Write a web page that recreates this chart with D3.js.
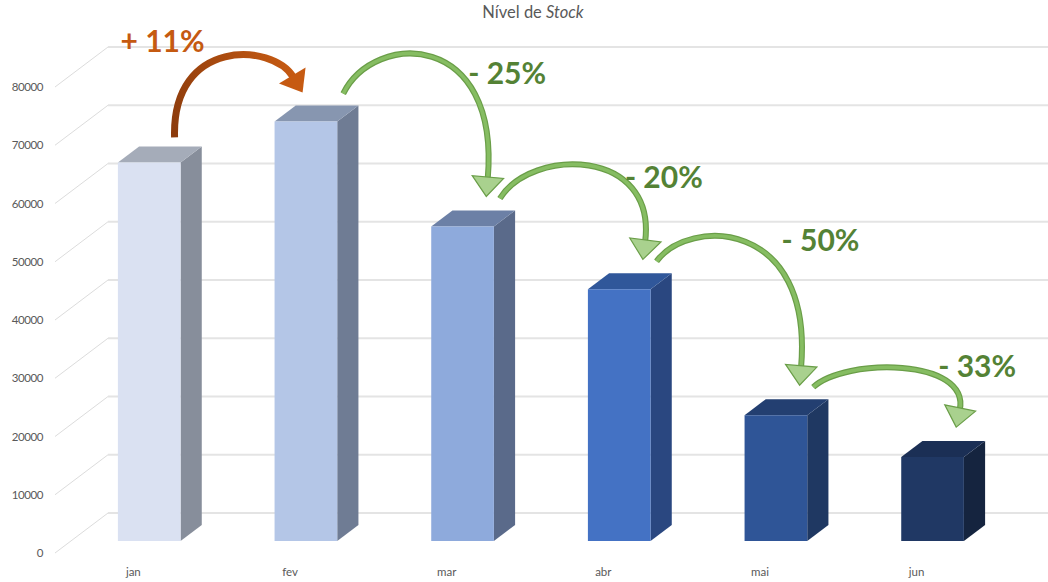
<!DOCTYPE html>
<html><head><meta charset="utf-8">
<script src="https://cdn.jsdelivr.net/npm/d3@7"></script>
<style>body{margin:0;background:#fff} svg{display:block}</style>
</head><body>
<script>
// ---- data ----
const months = ["jan", "fev", "mar", "abr", "mai", "jun"];
const stock = [65000, 72000, 54000, 43200, 21600, 14400];
const yTicks = [0, 10000, 20000, 30000, 40000, 50000, 60000, 70000, 80000];
const frontColors = ["#dae1f2", "#b4c6e7", "#8eaadc", "#4472c4", "#2f5597", "#203864"];
const topColors   = ["#a5acb9", "#8796b0", "#6c80a6", "#30579a", "#233f71", "#1b2f55"];
const sideColors  = ["#878e9b", "#6f7c94", "#5a6a8a", "#2a4780", "#1f3862", "#15243f"];

// ---- layout ----
const W = 1048, H = 582;
const DX = 53, DY = -40;           // depth vector (front -> back wall)
const D0 = 0.3, D1 = 0.7;          // bar depth range
const svg = d3.select("body").append("svg").attr("width", W).attr("height", H)
  .style("font-family", "Lato, 'Open Sans', sans-serif");

const x = d3.scaleBand().domain(months).range([55, 995]);
const y = d3.scaleLinear().domain([0, 80000]).range([553, 87]);
const P = (xf, v, d) => [xf + d * DX, y(v) + d * DY];

// title
const title = svg.append("text").attr("x", 533).attr("y", 18).attr("text-anchor", "middle")
  .attr("fill", "#595959").style("font-size", "16.5px");
title.append("tspan").text("Nível de ");
title.append("tspan").style("font-style", "italic").text("Stock");

// gridlines
const x0 = x.range()[0];
const grid = svg.append("g");
yTicks.forEach(t => {
  const a = P(x0, t, 0), b = P(x0, t, 1);
  grid.append("line").attr("x1", a[0]).attr("y1", a[1]).attr("x2", b[0]).attr("y2", b[1])
    .attr("stroke", "#dcdcdc").attr("stroke-width", 1);
  grid.append("line").attr("x1", b[0]).attr("y1", b[1]).attr("x2", W).attr("y2", b[1])
    .attr("stroke", "#e4e4e4").attr("stroke-width", 2);
});

// y-axis labels
svg.append("g").selectAll("text").data(yTicks).join("text")
  .attr("x", 43).attr("y", d => y(d)).attr("dy", "0.35em").attr("text-anchor", "end")
  .attr("fill", "#595959").style("font-size", "11.5px").style("letter-spacing", "-0.4px")
  .text(d => d);

// x-axis labels
svg.append("g").selectAll("text").data(months).join("text")
  .attr("x", d => x(d) + x.bandwidth() / 2).attr("y", 576).attr("text-anchor", "middle")
  .attr("fill", "#595959").style("font-size", "11.5px").text(d => d);

// bars
const half = x.step() * 0.2;
const geo = months.map((m, i) => {
  const c = x(m) + x.bandwidth() / 2, v = stock[i];
  const xl = c - half, xr = c + half;
  return {
    i, v, xl, xr,
    FL: P(xl, v, D0)[0], FR: P(xr, v, D0)[0], BR: P(xr, v, D1)[0],
    FT: P(xl, v, D0)[1], BT: P(xl, v, D1)[1]
  };
});
const bars = svg.append("g");
const poly = pts => "M" + pts.map(p => p.join(",")).join("L") + "Z";
geo.forEach(g => {
  const { xl, xr, v, i } = g;
  bars.append("path").attr("d", poly([P(xr, v, D0), P(xr, v, D1), P(xr, 0, D1), P(xr, 0, D0)]))
    .attr("fill", sideColors[i]);
  bars.append("path").attr("d", poly([P(xl, v, D0), P(xr, v, D0), P(xr, v, D1), P(xl, v, D1)]))
    .attr("fill", topColors[i]);
  bars.append("path").attr("d", poly([P(xl, v, D0), P(xr, v, D0), P(xr, 0, D0), P(xl, 0, D0)]))
    .attr("fill", frontColors[i]);
});

// change arrows
const defs = svg.append("defs");
const ann = svg.append("g");
for (let i = 0; i < stock.length - 1; i++) {
  const a = geo[i], b = geo[i + 1];
  const ch = stock[i + 1] / stock[i] - 1;
  const up = ch > 0;
  const label = (up ? "+ " : "- ") + Math.round(Math.abs(ch) * 100) + "%";
  let T, tip, c1, c2, headW, headL;
  if (up) {
    T = [a.FR - 6, a.BT - 9];
    tip = [b.FL + 28, b.BT - 13];
    c1 = [T[0] - 3, T[1] - 100];
    c2 = [tip[0] - 30, tip[1] - 50];
    headW = 31; headL = 20;
  } else {
    T = [a.FR + 6, a.BT - 12];
    tip = [b.FL + 55, b.BT - 14];
    const dx = tip[0] - T[0];
    const h = 74 - 0.115 * T[1];
    const Y = T[1] - h;
    c1 = [T[0] + 0.22 * dx, Y];
    c2 = [tip[0] + 0.1 * dx, Y];
    headW = 0.22 * dx; headL = 0.62 * headW;
  }
  let dir = [tip[0] - c2[0], tip[1] - c2[1]];
  const n = Math.hypot(dir[0], dir[1]); dir = [dir[0] / n, dir[1] / n];
  const perp = [-dir[1], dir[0]];
  const B = [tip[0] - (headL - 2) * dir[0], tip[1] - (headL - 2) * dir[1]];
  const Bh = [tip[0] - headL * dir[0], tip[1] - headL * dir[1]];
  const shaft = `M${T}C${c1} ${c2} ${B}`;
  const head = poly([tip, [Bh[0] + perp[0] * headW / 2, Bh[1] + perp[1] * headW / 2],
                          [Bh[0] - perp[0] * headW / 2, Bh[1] - perp[1] * headW / 2]]);
  if (up) {
    const gid = "og" + i;
    const lg = defs.append("linearGradient").attr("id", gid).attr("gradientUnits", "userSpaceOnUse")
      .attr("x1", T[0]).attr("y1", T[1]).attr("x2", tip[0]).attr("y2", tip[1]);
    lg.append("stop").attr("offset", 0).attr("stop-color", "#8c3b0c");
    lg.append("stop").attr("offset", 1).attr("stop-color", "#c65a12");
    ann.append("path").attr("d", shaft).attr("fill", "none").attr("stroke", `url(#${gid})`)
      .attr("stroke-width", 7);
    ann.append("path").attr("d", head).attr("fill", "#c65a12");
    ann.append("text").attr("x", T[0] + 30).attr("y", T[1] - 85).attr("text-anchor", "end")
      .attr("fill", "#c55a11").style("font-size", "30px").style("font-weight", 700).text(label);
  } else {
    ann.append("path").attr("d", shaft).attr("fill", "none").attr("stroke", "#6a9e48")
      .attr("stroke-width", 6);
    ann.append("path").attr("d", shaft).attr("fill", "none").attr("stroke", "#86bd62")
      .attr("stroke-width", 3.6);
    ann.append("path").attr("d", head).attr("fill", "#a9d18e").attr("stroke", "#6a9e48")
      .attr("stroke-width", 1.2);
    ann.append("text").attr("x", T[0] + 125).attr("y", T[1] - 10)
      .attr("fill", "#548235").style("font-size", "30px").style("font-weight", 700).text(label);
  }
}
</script>
</body></html>
